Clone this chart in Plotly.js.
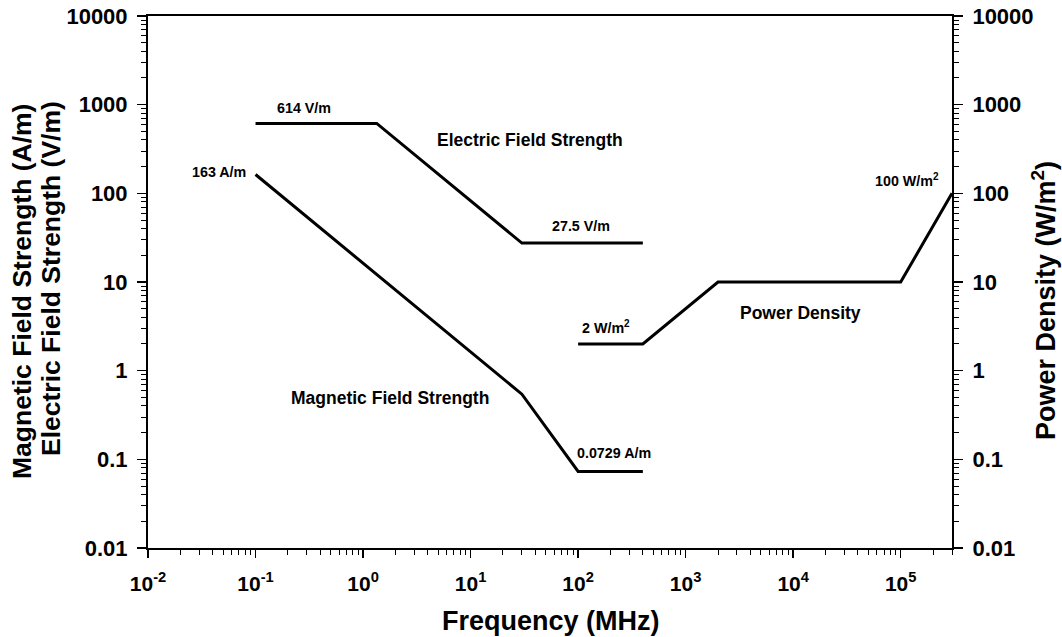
<!DOCTYPE html>
<html>
<head>
<meta charset="utf-8">
<script src="https://cdn.plot.ly/plotly-3.0.1.min.js"></script>
<style>html,body{margin:0;padding:0;background:#fff;}#chart{width:1062px;height:637px;}</style>
</head>
<body>
<div id="chart"></div>
<script>
// Electric field strength (V/m)
const freqE = [0.1, 1.34, 30, 400];
const valE = [614, 614, 27.5, 27.5];
// Magnetic field strength (A/m)
const freqH = [0.1, 30, 100, 400];
const valH = [163, 0.543, 0.0729, 0.0729];
// Power density (W/m^2)
const freqS = [100, 400, 2000, 100000, 300000];
const valS = [2, 2, 10, 10, 100];

const xTickVals = [0.01, 0.1, 1, 10, 100, 1000, 10000, 100000];
const xTickText = ['10<sup>-2</sup>', '10<sup>-1</sup>', '10<sup>0</sup>', '10<sup>1</sup>', '10<sup>2</sup>', '10<sup>3</sup>', '10<sup>4</sup>', '10<sup>5</sup>'];
const yTickVals = [0.01, 0.1, 1, 10, 100, 1000, 10000];
const yTickText = ['0.01', '0.1', '1', '10', '100', '1000', '10000'];

const FONT = 'Liberation Sans, Arial, sans-serif';
const lineStyle = {color: '#000', width: 3};

// minor tick positions (2..9 within each decade)
function minorVals(lo, hi) {
  const out = [];
  for (let e = lo; e < hi; e++) for (let m = 2; m <= 9; m++) out.push(m * Math.pow(10, e));
  return out;
}

const traces = [
  {x: freqE, y: valE, mode: 'lines', line: lineStyle, xaxis: 'x', yaxis: 'y', name: 'Electric Field Strength'},
  {x: freqH, y: valH, mode: 'lines', line: lineStyle, xaxis: 'x', yaxis: 'y', name: 'Magnetic Field Strength'},
  {x: freqS, y: valS, mode: 'lines', line: lineStyle, xaxis: 'x', yaxis: 'y2', name: 'Power Density'}
];

// paper coordinates: plot spans x 148..952, y 16..548
function px(X) { return (X - 148) / 804; }
function py(Y) { return (548 - Y) / 532; }
function ann(text, X, Y, size, angle) {
  return {text: text, xref: 'paper', yref: 'paper', x: px(X), y: py(Y), showarrow: false,
    xanchor: 'center', yanchor: 'middle', textangle: angle || 0, borderpad: 0,
    font: {family: FONT, size: size, color: '#000', weight: 'bold'}};
}

const annotations = [
  ann('614 V/m', 304, 108, 14.3),
  ann('Electric Field Strength', 530, 140, 17.5),
  ann('163 A/m', 219, 172, 14.3),
  ann('27.5 V/m', 581, 226, 14.3),
  ann('2 W/m<sup>2</sup>', 606, 327, 14.3),
  ann('Power Density', 800, 313, 17.5),
  ann('100 W/m<sup>2</sup>', 907, 180, 14.3),
  ann('Magnetic Field Strength', 390, 398, 17.5),
  ann('0.0729 A/m', 614, 453, 14.3),
  // axis titles
  ann('Frequency (MHz)', 551, 621, 27),
  ann('Magnetic Field Strength (A/m)', 22, 292, 26.5, -90),
  ann('Electric Field Strength (V/m)', 51, 279, 26.5, -90),
  ann('Power Density (W/m<sup>2</sup>)', 1044, 301, 27, -90)
];

const tickFont = {family: FONT, size: 22, color: '#000', weight: 'bold'};

const yCommon = {
  type: 'log', range: [-2, 4], tickvals: yTickVals, ticktext: yTickText,
  showgrid: false, zeroline: false, showline: true, linecolor: '#000', linewidth: 2,
  ticks: 'outside', ticklen: 9, tickwidth: 1.5, tickcolor: '#000',
  minor: {tickmode: 'array', tickvals: minorVals(-2, 4), ticks: 'outside', ticklen: 5, tickwidth: 1, tickcolor: '#000', showgrid: false},
  tickfont: tickFont, ticklabelstandoff: 5
};

const layout = {
  width: 1062, height: 637,
  margin: {l: 148, r: 110, t: 16, b: 89},
  paper_bgcolor: '#fff', plot_bgcolor: '#fff',
  showlegend: false,
  font: {family: FONT, color: '#000'},
  xaxis: {
    type: 'log', range: [-2, Math.log10(300000)],
    tickvals: xTickVals, ticktext: xTickText,
    showgrid: false, zeroline: false, showline: true, linecolor: '#000', linewidth: 2, mirror: true,
    ticks: 'outside', ticklen: 8, tickwidth: 1.5, tickcolor: '#000',
    minor: {tickmode: 'array', tickvals: minorVals(-2, 6).filter(v => v <= 300000), ticks: 'outside', ticklen: 5, tickwidth: 1, tickcolor: '#000', showgrid: false},
    tickfont: {family: FONT, size: 21, color: '#000', weight: 'bold'}, ticklabelstandoff: 8
  },
  yaxis: Object.assign({}, yCommon),
  yaxis2: Object.assign({}, yCommon, {overlaying: 'y', side: 'right'}),
  annotations: annotations
};

Plotly.newPlot('chart', traces, layout, {displayModeBar: false, staticPlot: true});
</script>
</body>
</html>
